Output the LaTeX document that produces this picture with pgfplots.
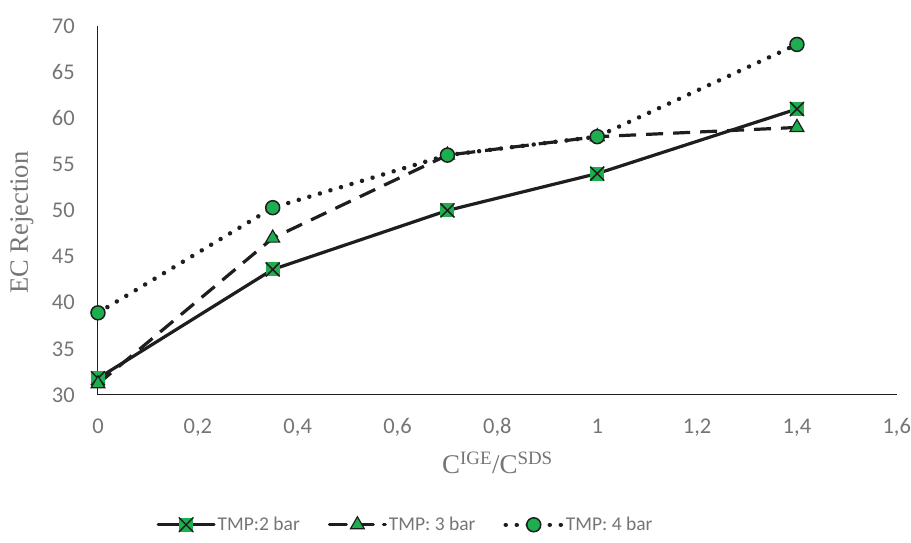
\documentclass[border=0pt]{standalone}
\usepackage{fontspec}
\setmainfont{Liberation Serif}
\newfontfamily\calibri{Carlito}
\usepackage{pgfplots}
\pgfplotsset{compat=1.18}
\definecolor{mkgreen}{HTML}{1DAF4F}
\definecolor{txtgray}{HTML}{757575}
\definecolor{linedark}{HTML}{1E1E1E}

% green square with a black cross
\pgfdeclareplotmark{sqx}{%
  \pgfpathrectangle{\pgfpoint{-\pgfplotmarksize}{-\pgfplotmarksize}}{\pgfpoint{2\pgfplotmarksize}{2\pgfplotmarksize}}%
  \pgfusepathqfill
  \pgfpathmoveto{\pgfpoint{-\pgfplotmarksize}{-\pgfplotmarksize}}%
  \pgfpathlineto{\pgfpoint{\pgfplotmarksize}{\pgfplotmarksize}}%
  \pgfpathmoveto{\pgfpoint{-\pgfplotmarksize}{\pgfplotmarksize}}%
  \pgfpathlineto{\pgfpoint{\pgfplotmarksize}{-\pgfplotmarksize}}%
  \pgfusepathqstroke
}

\begin{document}
\begin{tikzpicture}
\begin{axis}[
  scale only axis,
  width=799bp, height=369bp,
  at={(0,0)}, anchor=south west,
  xmin=0, xmax=1.6, ymin=30, ymax=70,
  xtick={0,0.2,0.4,0.6,0.8,1,1.2,1.4,1.6},
  ytick={30,35,40,45,50,55,60,65,70},
  /pgf/number format/use comma,
  /pgf/number format/assume math mode=true,
  axis x line=bottom, axis y line=left,
  axis line style={-, draw=linedark, line width=1bp},
  major tick length=0pt,
  tick label style={font=\calibri\fontsize{22.5bp}{26bp}\selectfont, text=txtgray, inner sep=0pt},
  xticklabel style={anchor=base, yshift=-39bp},
  yticklabel style={anchor=east, xshift=-23bp},
  ylabel={EC Rejection},
  % rotated label: yshift moves it along the page's x direction
  ylabel style={font=\fontsize{26.5bp}{30bp}\selectfont, text=txtgray, inner sep=0pt,
    at={(rel axis cs:0,0.467)}, anchor=center, yshift=76bp},
  xlabel={C\textsuperscript{IGE}/C\textsuperscript{SDS}},
  xlabel style={font=\fontsize{27bp}{30bp}\selectfont, text=txtgray, inner sep=0pt,
    at={(rel axis cs:0.5,0)}, anchor=base, yshift=-79bp},
  legend columns=3,
  legend style={at={(0.385,-0.352)}, anchor=center, draw=none, fill=none,
    font=\calibri\fontsize{19.5bp}{22bp}\selectfont, text=txtgray,
    /tikz/every even column/.append style={column sep=26bp}},
  legend image code/.code={\draw[mark repeat=2, mark phase=2, line cap=round, #1] plot coordinates {(0bp,0bp) (28bp,0bp) (56bp,0bp)};},
  every axis plot/.append style={line width=3.2bp, draw=linedark},
  clip=false,
]
\addplot[mark=sqx, mark size=7bp, mark options={solid, fill=mkgreen, draw=linedark, line width=1.5bp}]
  coordinates {(0,31.8) (0.35,43.6) (0.7,50) (1,54) (1.4,61)};
\addlegendentry{TMP:2 bar}
\addplot[dash pattern=on 17bp off 10bp, mark=triangle*, mark size=8bp, mark options={solid, fill=mkgreen, draw=linedark, line width=1.2bp}]
  coordinates {(0,31.2) (0.35,47) (0.7,56) (1,58) (1.4,59)};
\addlegendentry{TMP: 3 bar}
\addplot[line cap=round, line width=4.5bp, dash pattern=on 0.01bp off 11bp, mark=*, mark size=7bp, mark options={solid, fill=mkgreen, draw=linedark, line width=1.5bp}]
  coordinates {(0,38.9) (0.35,50.3) (0.7,56) (1,58) (1.4,68)};
\addlegendentry{TMP: 4 bar}
\end{axis}
\useasboundingbox (-98bp,-148bp) rectangle (813bp,395bp);
\end{tikzpicture}
\end{document}
